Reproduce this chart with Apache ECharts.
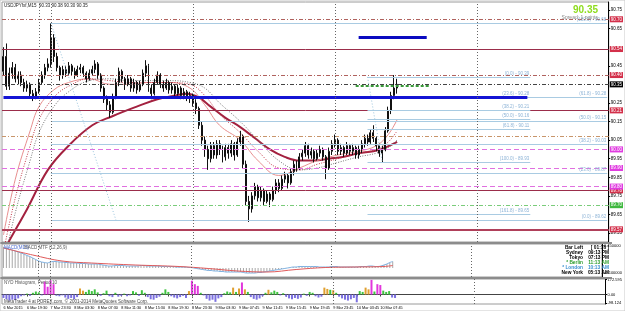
<!DOCTYPE html>
<html>
<head>
<meta charset="utf-8">
<script src="https://cdn.jsdelivr.net/npm/echarts@6/dist/echarts.min.js"></script>
<style>
  html, body { margin: 0; padding: 0; background: #fff; }
  #chart { width: 625px; height: 311px; }
</style>
</head>
<body>
<div id="chart"></div>
<script>
// USDJPY M15, one category per 30 min slot, chart shifted so right side is empty
const barCount = 205;
const timeLabels = ['6 Mar 2015', '6 Mar 19:30', '7 Mar 23:30', '8 Mar 03:30', '8 Mar 07:30', '8 Mar 11:30',
  '8 Mar 15:30', '8 Mar 19:30', '8 Mar 23:30', '9 Mar 03:30', '9 Mar 07:45', '9 Mar 11:45', '9 Mar 15:45',
  '9 Mar 19:45', '9 Mar 23:45', '10 Mar 03:45', '10 Mar 07:45'];
const priceTicks = [89.55, 89.65, 89.75, 89.85, 89.95, 90.05, 90.15, 90.25, 90.45, 90.65, 90.75];
const macdTicks = [0.45, -0.10];
const histTicks = [172.595, 0, -98.124];

// [open, close, low, high]
const candles = [
  [90.42, 90.50, 90.40, 90.55], [90.50, 90.34, 90.32, 90.57], [90.34, 90.41, 90.32, 90.44], [90.41, 90.44, 90.38, 90.47],
  [90.44, 90.38, 90.36, 90.46], [90.38, 90.40, 90.35, 90.42], [90.40, 90.36, 90.34, 90.42], [90.36, 90.33, 90.31, 90.38],
  [90.33, 90.35, 90.31, 90.37], [90.35, 90.30, 90.28, 90.36], [90.30, 90.28, 90.26, 90.32], [90.28, 90.31, 90.27, 90.33],
  [90.31, 90.36, 90.30, 90.38], [90.36, 90.40, 90.35, 90.42], [90.40, 90.44, 90.38, 90.46], [90.44, 90.46, 90.42, 90.49],
  [90.46, 90.60, 90.44, 90.68], [90.60, 90.50, 90.47, 90.62], [90.50, 90.44, 90.42, 90.52], [90.44, 90.40, 90.37, 90.45],
  [90.40, 90.43, 90.38, 90.45], [90.43, 90.41, 90.39, 90.45], [90.41, 90.45, 90.40, 90.47], [90.45, 90.42, 90.40, 90.46],
  [90.42, 90.40, 90.38, 90.44], [90.40, 90.43, 90.39, 90.45], [90.43, 90.44, 90.41, 90.46], [90.44, 90.41, 90.39, 90.45],
  [90.41, 90.38, 90.36, 90.42], [90.38, 90.41, 90.37, 90.43], [90.41, 90.43, 90.40, 90.45], [90.43, 90.46, 90.41, 90.48],
  [90.46, 90.40, 90.38, 90.47], [90.40, 90.33, 90.31, 90.41], [90.33, 90.27, 90.25, 90.34], [90.27, 90.24, 90.21, 90.29],
  [90.24, 90.20, 90.17, 90.26], [90.20, 90.28, 90.19, 90.30], [90.28, 90.36, 90.27, 90.38], [90.36, 90.42, 90.34, 90.44],
  [90.42, 90.38, 90.36, 90.43], [90.38, 90.35, 90.32, 90.39], [90.35, 90.38, 90.34, 90.40], [90.38, 90.33, 90.31, 90.39],
  [90.33, 90.36, 90.31, 90.38], [90.36, 90.32, 90.30, 90.37], [90.32, 90.35, 90.31, 90.37], [90.35, 90.41, 90.34, 90.43],
  [90.41, 90.45, 90.39, 90.48], [90.45, 90.33, 90.31, 90.46], [90.33, 90.30, 90.27, 90.35], [90.30, 90.36, 90.29, 90.38],
  [90.36, 90.40, 90.35, 90.42], [90.40, 90.35, 90.33, 90.41], [90.35, 90.33, 90.31, 90.37], [90.33, 90.36, 90.32, 90.38],
  [90.36, 90.32, 90.30, 90.37], [90.32, 90.34, 90.30, 90.36], [90.34, 90.30, 90.28, 90.35], [90.30, 90.33, 90.29, 90.35],
  [90.33, 90.29, 90.27, 90.34], [90.29, 90.31, 90.27, 90.33], [90.31, 90.28, 90.26, 90.32], [90.28, 90.29, 90.25, 90.31],
  [90.29, 90.25, 90.23, 90.30], [90.25, 90.22, 90.19, 90.27], [90.22, 90.13, 90.11, 90.23], [90.13, 90.05, 90.02, 90.15],
  [90.05, 90.00, 89.96, 90.07], [90.00, 89.95, 89.89, 90.02], [89.95, 90.02, 89.93, 90.04], [90.02, 89.97, 89.95, 90.04],
  [89.97, 90.03, 89.95, 90.05], [90.03, 90.00, 89.97, 90.05], [90.00, 89.96, 89.93, 90.02], [89.96, 90.01, 89.94, 90.03],
  [90.01, 89.98, 89.95, 90.03], [89.98, 90.03, 89.96, 90.05], [90.03, 89.97, 89.94, 90.04], [89.97, 90.04, 89.96, 90.06],
  [90.04, 90.07, 90.02, 90.10], [90.07, 89.92, 89.90, 90.08], [89.92, 89.72, 89.70, 89.94], [89.72, 89.68, 89.61, 89.75],
  [89.68, 89.75, 89.66, 89.77], [89.75, 89.80, 89.73, 89.82], [89.80, 89.74, 89.72, 89.81], [89.74, 89.78, 89.72, 89.80],
  [89.78, 89.72, 89.70, 89.79], [89.72, 89.76, 89.71, 89.78], [89.76, 89.73, 89.69, 89.77], [89.73, 89.78, 89.72, 89.80],
  [89.78, 89.82, 89.76, 89.84], [89.82, 89.79, 89.77, 89.84], [89.79, 89.84, 89.78, 89.86], [89.84, 89.86, 89.82, 89.88],
  [89.86, 89.82, 89.79, 89.87], [89.82, 89.88, 89.81, 89.90], [89.88, 89.92, 89.86, 89.94], [89.92, 89.90, 89.88, 89.94],
  [89.90, 89.96, 89.89, 89.98], [89.96, 89.98, 89.94, 90.00], [89.98, 90.02, 89.96, 90.04], [90.02, 89.97, 89.95, 90.03],
  [89.97, 89.99, 89.95, 90.01], [89.99, 89.95, 89.93, 90.00], [89.95, 89.98, 89.94, 90.00], [89.98, 90.00, 89.96, 90.02],
  [90.00, 89.96, 89.94, 90.01], [89.96, 89.90, 89.84, 89.97], [89.90, 89.99, 89.89, 90.01], [89.99, 90.03, 89.97, 90.05],
  [90.03, 90.05, 90.01, 90.08], [90.05, 89.99, 89.97, 90.06], [89.99, 90.01, 89.97, 90.03], [90.01, 89.98, 89.96, 90.02],
  [89.98, 90.02, 89.97, 90.04], [90.02, 89.99, 89.97, 90.03], [89.99, 90.01, 89.97, 90.03], [90.01, 89.97, 89.95, 90.02],
  [89.97, 90.00, 89.95, 90.02], [90.00, 90.03, 89.98, 90.05], [90.03, 90.06, 90.01, 90.08], [90.06, 90.04, 90.02, 90.08],
  [90.04, 90.09, 90.03, 90.11], [90.09, 90.06, 90.04, 90.13], [90.06, 90.02, 89.99, 90.07], [90.02, 89.98, 89.96, 90.03],
  [89.98, 90.00, 89.93, 90.02], [90.00, 90.10, 89.99, 90.12], [90.10, 90.21, 90.09, 90.23], [90.21, 90.29, 90.19, 90.31],
  [90.29, 90.33, 90.27, 90.40], [90.33, 90.35, 90.30, 90.38]
];

// moving averages read at sample bars: [bar, price]
const maSlow = [[0, 89.45], [2, 89.51], [8, 89.68], [15, 89.89], [22, 90.02], [30, 90.13], [37, 90.18], [45, 90.23],
  [52, 90.27], [58, 90.29], [62, 90.30], [66, 90.28], [70, 90.23], [75, 90.17], [80, 90.12], [85, 90.06], [90, 90.00],
  [95, 89.96], [100, 89.94], [105, 89.94], [110, 89.95], [115, 89.96], [120, 89.98], [125, 89.99], [129, 90.01], [133, 90.04]];
const maFast = [[0, 89.54], [4, 89.84], [9, 90.10], [12, 90.23], [17, 90.32], [22, 90.36], [29, 90.38], [36, 90.35],
  [42, 90.35], [49, 90.36], [56, 90.36], [63, 90.33], [68, 90.24], [73, 90.13], [80, 90.05], [86, 89.94], [93, 89.86],
  [100, 89.90], [106, 89.94], [113, 89.97], [120, 89.99], [126, 90.02], [130, 90.08], [133, 90.16]];
const maMid = [[0, 89.45], [4, 89.74], [9, 90.02], [12, 90.16], [17, 90.28], [22, 90.34], [29, 90.38], [36, 90.37],
  [42, 90.36], [49, 90.36], [56, 90.36], [63, 90.35], [68, 90.29], [73, 90.19], [80, 90.09], [86, 89.99], [93, 89.90],
  [100, 89.89], [106, 89.92], [113, 89.95], [120, 89.98], [126, 90.00], [130, 90.04], [133, 90.10]];
const maLag = [[0, 89.38], [4, 89.66], [9, 89.94], [12, 90.09], [17, 90.23], [22, 90.31], [29, 90.37], [36, 90.38],
  [42, 90.37], [49, 90.37], [56, 90.37], [63, 90.36], [68, 90.33], [73, 90.25], [80, 90.15], [86, 90.05], [93, 89.94],
  [100, 89.89], [106, 89.90], [113, 89.93], [120, 89.96], [126, 89.98], [130, 90.01], [133, 90.05]];

// levels
const dailyR = [90.70, 90.40];
const dailyPivot = 90.07;
const dailyS1 = 89.70;
const srLevels = [90.54, 90.21, 89.78];
const lowLevel = 89.57;
const pivotLevels = [90.00, 89.90, 89.80];
const bidPrice = 90.35;
const blueLevel = [0, 177, 90.28];
const blueShort = [120, 143, 90.605];
const greenShort = [119, 144, 90.345];

// fibonacci sets
const fibANames = ['0.0', '23.6', '38.2', '50.0', '61.8', '100.0', '161.8'];
const fibAPrices = [90.39, 90.28, 90.21, 90.16, 90.11, 89.93, 89.65];
const fibARange = [123, 178];
const fibATrend = [[123, 90.39], [128, 89.93]];
const fibBNames = ['100.0', '61.8', '50.0', '38.2', '23.6', '0.0'];
const fibBPrices = [90.68, 90.28, 90.15, 90.03, 89.87, 89.62];
const fibBRange = [16, 204];
const fibBTrend = [[16, 90.68], [38, 89.62]];

const separators = [12, 16, 64, 112, 160];

const levelNames = ['Daily R2', 'Daily R1', 'Daily S1', 'MonthlyPivot', 'WeeklyPivot'];
const levelNamePos = [[120, 90.712], [120, 90.411], [120, 89.685], [108, 89.889], [113, 89.787]];

// MACD MTF main value per bar, signal sampled
const macdValues = [
  0.42, 0.40, 0.38, 0.36, 0.34, 0.32, 0.30, 0.28, 0.25, 0.23, 0.20, 0.17,
  0.14, 0.12, 0.11, 0.10, 0.12, 0.13, 0.13, 0.12, 0.12, 0.11, 0.11, 0.10,
  0.10, 0.10, 0.09, 0.09, 0.09, 0.08, 0.08, 0.08, 0.08, 0.07, 0.06, 0.05,
  0.04, 0.04, 0.05, 0.05, 0.05, 0.05, 0.04, 0.04, 0.04, 0.04, 0.04, 0.05,
  0.05, 0.04, 0.04, 0.04, 0.04, 0.04, 0.03, 0.03, 0.03, 0.03, 0.03, 0.02,
  0.02, 0.02, 0.02, 0.01, 0.01, 0.00, -0.01, -0.02, -0.03, -0.04, -0.05, -0.05,
  -0.06, -0.06, -0.07, -0.07, -0.08, -0.08, -0.08, -0.08, -0.08, -0.08, -0.09, -0.10,
  -0.10, -0.10, -0.10, -0.09, -0.09, -0.08, -0.07, -0.06, -0.05, -0.04, -0.03, -0.02,
  -0.01, 0.00, 0.01, 0.02, 0.02, 0.03, 0.03, 0.03, 0.03, 0.03, 0.03, 0.03,
  0.02, 0.02, 0.02, 0.02, 0.03, 0.03, 0.03, 0.02, 0.02, 0.02, 0.02, 0.02,
  0.02, 0.02, 0.03, 0.03, 0.03, 0.04, 0.04, 0.03, 0.03, 0.04, 0.06, 0.08,
  0.11, 0.13
];
const macdSignal = [[0, 0.40], [10, 0.26], [20, 0.14], [30, 0.10], [45, 0.06], [60, 0.03], [70, -0.01], [80, -0.06],
  [90, -0.08], [100, -0.03], [110, 0.01], [120, 0.02], [130, 0.03], [133, 0.05]];

// NYD histogram, p = falling, g = rising, m = strong, o = weak turn
const histValues = [
  -40, -55, -70, -60, -65, -45, -20, -10, 10, -15,
  20, 35, 25, -10, 150, 90, 165, 120, -15, -20,
  -10, -35, -50, -40, -55, -30, 70, 45, 30, 55,
  40, 60, 25, -15, 15, 45, -20, -30, 20, -25,
  -15, 10, -20, -10, 40, 25, -15, 50, 20, -30,
  -55, -60, -40, -25, 20, 60, 30, -20, -35, -45,
  -30, -15, -40, 40, 160, 120, 100, 20, -10, -50,
  -70, -60, -85, -45, -30, 15, 35, 25, 80, 30,
  70, 140, 60, 30, -30, -50, -60, -45, -20, 20,
  55, 25, 45, 30, -10, 15, -25, -45, -55, -40,
  -50, -35, 10, -15, 30, 20, -20, -35, -25, 80,
  65, 55, 50, 20, -25, -45, -60, -70, -55, -40,
  -90, 40, 30, 80, 60, 170, 35, 120, 110, 45,
  30, 40, -35, -40
];
const histKinds = ['ppppppppgp', 'gggpmmmmpp', 'ppppppoogg', 'gggpggppgp', 'pgppggpggp', 'ppppgggppp',
  'pppommmgpp', 'pppppgggog', 'omogpppppg', 'ogggpgpppp', 'ppgpggpppo', 'ogogpppppp', 'pggoomgmmg', 'ggpp'].join('');

const headerText = 'USDJPYfxf,M15  90.33 90.38 90.30 90.35';
const spreadText = 'Spread: 1 points';
const clockRows = [['Bar Left', '[ 01:16 ]'], ['Sydney', '09:13 PM'], ['Tokyo', '07:13 PM'],
  ['* Berlin', '11:13 AM'], ['* London', '10:13 AM'], ['New York', '05:13 AM']];
const clockColors = ['#000', '#000', '#000', '#2e9e2e', '#3a8fd0', '#000'];

const FONT = 'Liberation Sans, Arial, sans-serif';
const cats = Array.from({ length: barCount }, (_, i) => String(i));
const histColors = { p: '#7b6fe0', g: '#3fc43f', m: '#e236dc', o: '#e0a030' };

const dashDot = [4, 2, 1, 2];
const noLabel = { show: false };
const box = (bg) => ({
  show: true, position: 'end', distance: 1, formatter: (p) => p.value.toFixed(2),
  backgroundColor: bg, color: '#fff', fontSize: 4.5, fontFamily: FONT, padding: [1, 1, 0, 1]
});
const hLine = (p, style, label) => ({ yAxis: p, lineStyle: style, label: label || noLabel });
const seg = (a, b, style, label) => [{ coord: a, lineStyle: style, label: label || noLabel }, { coord: b }];
const fibLabel = (name, p) => ({
  show: true, position: 'insideEndTop', distance: 1, formatter: '(' + name + ') - ' + p.toFixed(2),
  color: '#8db3d6', fontSize: 4.5, fontFamily: FONT
});
const fibStyle = { color: '#a9cbe2', width: 1, type: 'solid' };
const vStyle = { color: '#666', width: 1, type: [1, 2] };

const mainLines = [];
dailyR.forEach(p => mainLines.push(hLine(p, { color: '#b0625e', width: 1, type: dashDot }, box('#d3304a'))));
mainLines.push(hLine(dailyPivot, { color: '#c8956a', width: 1, type: dashDot }));
srLevels.forEach(p => mainLines.push(hLine(p, { color: '#9b2d4a', width: 1, type: 'solid' }, box('#d3304a'))));
mainLines.push(hLine(lowLevel, { color: '#b0405a', width: 2, type: 'solid' }, box('#d3304a')));
pivotLevels.forEach(p => mainLines.push(hLine(p, { color: '#e070e0', width: 1, type: [5, 3] }, box('#e03ce0'))));
mainLines.push(hLine(dailyS1, { color: '#7acc7a', width: 1, type: dashDot }, box('#3fb83f')));
mainLines.push(hLine(bidPrice, { color: '#444', width: 1, type: dashDot }, box('#000')));
fibAPrices.forEach((p, k) => mainLines.push(seg([fibARange[0], p], [fibARange[1], p], fibStyle, fibLabel(fibANames[k], p))));
fibBPrices.forEach((p, k) => mainLines.push(seg([fibBRange[0], p], [fibBRange[1], p], fibStyle, fibLabel(fibBNames[k], p))));
mainLines.push(seg(fibATrend[0], fibATrend[1], { color: '#9cc6de', width: 1, type: [1, 2] }));
mainLines.push(seg(fibBTrend[0], fibBTrend[1], { color: '#9cc6de', width: 1, type: [1, 2] }));
mainLines.push(seg([blueLevel[0], blueLevel[2]], [blueLevel[1], blueLevel[2]], { color: '#1414d4', width: 3, type: 'solid' }));
mainLines.push(seg([blueShort[0], blueShort[2]], [blueShort[1], blueShort[2]], { color: '#0a0ac0', width: 3, type: 'solid' }));
mainLines.push(seg([greenShort[0], greenShort[2]], [greenShort[1], greenShort[2]], { color: '#3a9a3a', width: 2, type: [3, 2] }));
const sepLines = separators.map(i => ({ xAxis: i, lineStyle: vStyle, label: noLabel }));
sepLines.forEach(s => mainLines.push(s));

const levelTextColors = ['#c0504d', '#c0504d', '#3aa83a', '#d040d0', '#d040d0'];

const axisBase = (g) => ({
  type: 'category', gridIndex: g, data: cats, boundaryGap: true,
  axisLine: { show: false }, axisTick: { show: false }, axisLabel: { show: false }, splitLine: { show: false }
});
const timeTick = (idx) => idx % 8 === 0 && idx / 8 < timeLabels.length;

const chart = echarts.init(document.getElementById('chart'));
const option = {
  animation: false,
  backgroundColor: '#ffffff',
  grid: [
    { left: 2, right: 13, top: 2, height: 240, show: true, borderColor: '#9a9a9a', borderWidth: 1 },
    { left: 2, right: 13, top: 244, height: 33, show: true, borderColor: '#9a9a9a', borderWidth: 1 },
    { left: 2, right: 13, top: 279, height: 25, show: true, borderColor: '#9a9a9a', borderWidth: 1 }
  ],
  xAxis: [
    axisBase(0), axisBase(1),
    Object.assign(axisBase(2), {
      axisLine: { show: true, lineStyle: { color: '#444' } },
      axisTick: { show: true, interval: timeTick, alignWithLabel: true, length: 2, lineStyle: { color: '#444' } },
      axisLabel: {
        show: true, interval: timeTick, formatter: (v, idx) => timeLabels[idx / 8],
        fontSize: 3.8, fontFamily: FONT, color: '#000', align: 'left', margin: 2
      }
    })
  ],
  yAxis: [
    {
      type: 'value', gridIndex: 0, position: 'right', min: 89.502, max: 90.793,
      splitLine: { show: false }, axisLine: { show: true, lineStyle: { color: '#000' } },
      axisTick: { show: true, customValues: priceTicks, length: 1.5, lineStyle: { color: '#000' } },
      axisLabel: { customValues: priceTicks, formatter: v => v.toFixed(2), fontSize: 4.5, fontFamily: FONT, color: '#000', margin: 2 }
    },
    {
      type: 'value', gridIndex: 1, position: 'right', min: -0.18, max: 0.48,
      splitLine: { show: false }, axisLine: { show: true, lineStyle: { color: '#000' } },
      axisTick: { show: true, customValues: macdTicks, length: 1.5 },
      axisLabel: { customValues: macdTicks, formatter: v => v.toFixed(6), fontSize: 4, fontFamily: FONT, color: '#000', margin: 2 }
    },
    {
      type: 'value', gridIndex: 2, position: 'right', min: -110, max: 180,
      splitLine: { show: false }, axisLine: { show: true, lineStyle: { color: '#000' } },
      axisTick: { show: true, customValues: histTicks, length: 1.5 },
      axisLabel: { customValues: histTicks, formatter: v => (v === 0 ? '0.00' : v.toFixed(3)), fontSize: 4, fontFamily: FONT, color: '#000', margin: 2 }
    }
  ],
  series: [
    {
      type: 'line', xAxisIndex: 0, yAxisIndex: 0, data: maSlow, showSymbol: false, smooth: 0.4,
      lineStyle: { color: '#a3213f', width: 2 }, z: 3
    },
    {
      type: 'line', xAxisIndex: 0, yAxisIndex: 0, data: maFast, showSymbol: false, smooth: 0.4,
      lineStyle: { color: '#e88f8f', width: 1 }, z: 3
    },
    {
      type: 'line', xAxisIndex: 0, yAxisIndex: 0, data: maMid, showSymbol: false, smooth: 0.4,
      lineStyle: { color: '#c03848', width: 1, type: [1, 1.5] }, z: 3
    },
    {
      type: 'line', xAxisIndex: 0, yAxisIndex: 0, data: maLag, showSymbol: false, smooth: 0.4,
      lineStyle: { color: '#777', width: 1, type: [1, 1.5] }, z: 3
    },
    {
      type: 'candlestick', xAxisIndex: 0, yAxisIndex: 0, data: candles, barMaxWidth: 2, z: 4,
      itemStyle: { color: '#ffffff', color0: '#000000', borderColor: '#111', borderColor0: '#111', borderWidth: 1 },
      markLine: { silent: true, symbol: ['none', 'none'], data: mainLines, z: 5 }
    },
    {
      type: 'scatter', xAxisIndex: 0, yAxisIndex: 0, symbolSize: 1, itemStyle: { opacity: 0 }, z: 6,
      data: levelNames.map((n, k) => ({
        name: n, value: levelNamePos[k],
        label: { show: true, position: 'right', distance: 0, formatter: '{b}', color: levelTextColors[k], fontSize: 4.5, fontFamily: FONT }
      }))
    },
    {
      type: 'bar', xAxisIndex: 1, yAxisIndex: 1, data: macdValues, barWidth: 1,
      itemStyle: { color: '#a8a8a8' },
      markLine: { silent: true, symbol: ['none', 'none'], data: separators.map(i => ({ xAxis: i, lineStyle: vStyle, label: noLabel })) }
    },
    {
      type: 'line', xAxisIndex: 1, yAxisIndex: 1, data: macdValues, showSymbol: false, smooth: 0.3,
      lineStyle: { color: '#7fb2e2', width: 1 }
    },
    {
      type: 'line', xAxisIndex: 1, yAxisIndex: 1, data: macdSignal, showSymbol: false, smooth: 0.4,
      lineStyle: { color: '#e05a5a', width: 1 }
    },
    {
      type: 'bar', xAxisIndex: 2, yAxisIndex: 2, barWidth: 2,
      data: histValues.map((v, i) => ({ value: v, itemStyle: { color: histColors[histKinds[i]] } })),
      markLine: { silent: true, symbol: ['none', 'none'], data: separators.map(i => ({ xAxis: i, lineStyle: vStyle, label: noLabel })) }
    }
  ],
  graphic: [
    { type: 'rect', z: 50, shape: { x: 0, y: 242, width: 612, height: 2 }, style: { fill: '#8c8c8c' } },
    { type: 'rect', z: 50, shape: { x: 0, y: 277, width: 612, height: 2 }, style: { fill: '#8c8c8c' } },
    { type: 'rect', z: 50, shape: { x: 0, y: 0, width: 625, height: 311 }, style: { fill: 'none', stroke: '#c8c8c8', lineWidth: 1 } },
    { type: 'text', z: 50, x: 4, y: 3, style: { text: headerText, fontSize: 4.5, fontFamily: FONT, fill: '#222' } },
    { type: 'text', z: 50, x: 598, y: 5, style: { text: bidPrice.toFixed(2), fontSize: 10, fontWeight: 'bold', fontFamily: FONT, fill: '#8fdc1e', align: 'right' } },
    { type: 'text', z: 50, x: 598, y: 15, style: { text: spreadText, fontSize: 5, fontFamily: FONT, fill: '#8a8a8a', align: 'right' } },
    { type: 'text', z: 50, x: 4, y: 245, style: { text: 'MACD(M15)', fontSize: 4.5, fontFamily: FONT, fill: '#4a6ad0' } },
    { type: 'text', z: 50, x: 24, y: 245, style: { text: 'MACD MTF (12,26,9)', fontSize: 4.5, fontFamily: FONT, fill: '#555' } },
    { type: 'text', z: 50, x: 4, y: 280, style: { text: 'NYD Histogram, Period 10', fontSize: 4.5, fontFamily: FONT, fill: '#555' } },
    { type: 'text', z: 50, x: 4, y: 299, style: { text: 'MetaTrader 4 at FOREX.com, \u00a9 2001-2014 MetaQuotes Software Corp.', fontSize: 4.5, fontFamily: FONT, fill: '#444' } }
  ].concat(clockRows.flatMap((r, k) => [
    { type: 'text', z: 50, x: 583, y: 245 + k * 5, style: { text: r[0], fontSize: 4.8, fontWeight: 'bold', fontFamily: FONT, fill: clockColors[k], align: 'right' } },
    { type: 'text', z: 50, x: 609, y: 245 + k * 5, style: { text: r[1], fontSize: 4.8, fontWeight: 'bold', fontFamily: FONT, fill: clockColors[k], align: 'right' } }
  ]))
};
chart.setOption(option);
</script>
</body>
</html>
